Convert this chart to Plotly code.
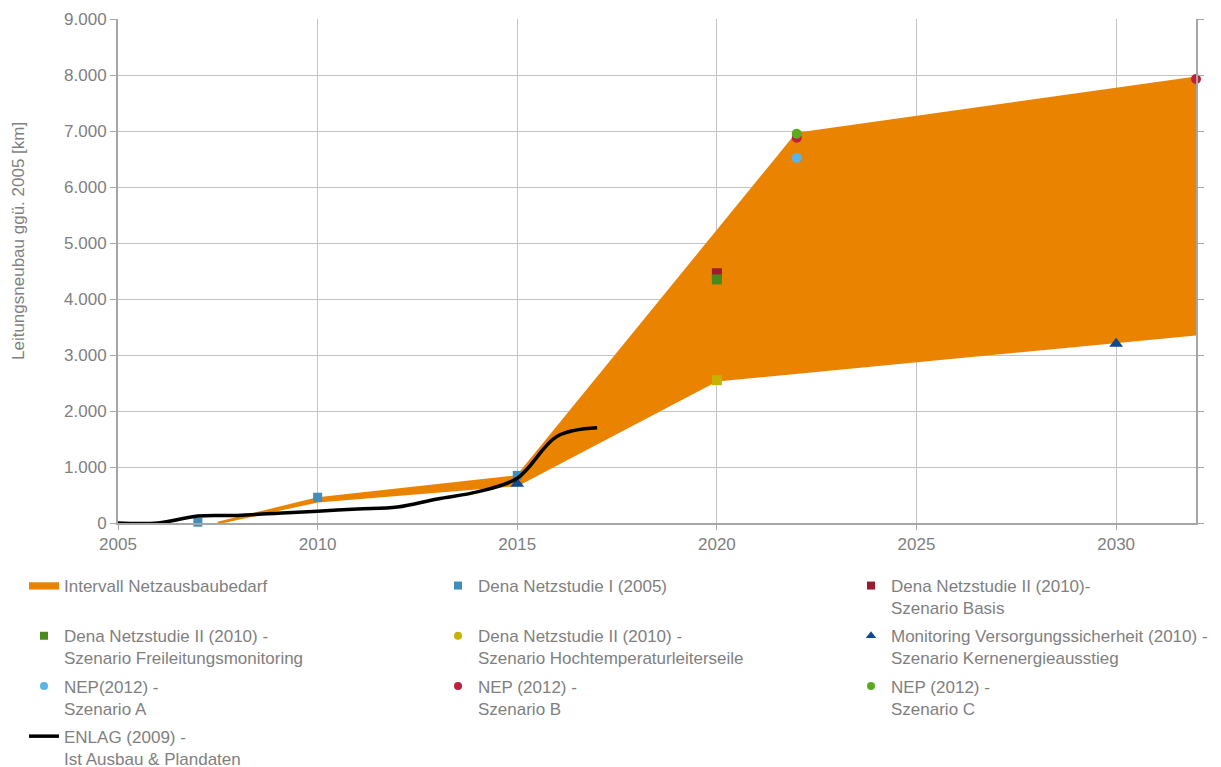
import plotly.graph_objects as go

# ---------------- data ----------------
band_upper_x = [2007.5, 2010, 2015, 2022, 2032]
band_upper_y = [0, 440, 830, 6950, 7950]
band_lower_x = [2007.5, 2010, 2015, 2020, 2032]
band_lower_y = [0, 390, 680, 2550, 3370]

enlag_years = [2005, 2006, 2007, 2008, 2009, 2010, 2011, 2012, 2013, 2014, 2015, 2016, 2017]
enlag_km = [0, 0, 125, 135, 175, 210, 250, 285, 430, 555, 800, 1550, 1700]

dena1_x = [2007, 2010, 2015]
dena1_y = [15, 460, 850]
dena2_basis_x = [2020]
dena2_basis_y = [4460]
dena2_frei_x = [2020]
dena2_frei_y = [4350]
dena2_htls_x = [2020]
dena2_htls_y = [2550]
monitoring_x = [2015, 2030]
monitoring_y = [700, 3200]
nep_a_x = [2022]
nep_a_y = [6520]
nep_b_x = [2022, 2032]
nep_b_y = [6880, 7930]
nep_c_x = [2022]
nep_c_y = [6950]

x_ticks = [2005, 2010, 2015, 2020, 2025, 2030]
y_ticks = [0, 1000, 2000, 3000, 4000, 5000, 6000, 7000, 8000, 9000]

# ---------------- style ----------------
FONT = "Liberation Sans, Arial, sans-serif"
GRAY = "#7F7F7F"
ORANGE = "#E98300"
C_DENA1 = "#3F8FBA"
C_BASIS = "#9B1B30"
C_FREI = "#4A8A1C"
C_HTLS = "#C8B200"
C_MON = "#0D4A94"
C_NEPA = "#5BB4E3"
C_NEPB = "#C0203B"
C_NEPC = "#5EAA1F"
NB = "\u00a0"

fig = go.Figure()

# band polygon (upper boundary forward, lower boundary backward)
fig.add_trace(go.Scatter(
    x=band_upper_x + band_lower_x[::-1],
    y=band_upper_y + band_lower_y[::-1],
    mode="lines", fill="toself", fillcolor=ORANGE,
    line=dict(color=ORANGE, width=2.5),
    name="Intervall Netzausbaubedarf<br>" + NB,
    legend="legend", legendgroup="a1", hoverinfo="skip"))

def pts(x, y, sym, col, size=10):
    fig.add_trace(go.Scatter(x=x, y=y, mode="markers", showlegend=False, cliponaxis=False,
                             marker=dict(symbol=sym, color=col, size=size)))

pts(dena1_x, dena1_y, "square", C_DENA1, 9)
pts(dena2_basis_x, dena2_basis_y, "square", C_BASIS, 10)
pts(dena2_frei_x, dena2_frei_y, "square", C_FREI, 10)
pts(dena2_htls_x, dena2_htls_y, "square", C_HTLS, 10)
pts(monitoring_x, monitoring_y, "triangle-up", C_MON, 12)
pts(nep_a_x, nep_a_y, "circle", C_NEPA, 10)
pts(nep_b_x, nep_b_y, "circle", C_NEPB, 10)
pts(nep_c_x, nep_c_y, "circle", C_NEPC, 10)

def leg(name, sym, col, legend, group, size=8):
    fig.add_trace(go.Scatter(x=[None], y=[None], mode="markers", name=name,
                             marker=dict(symbol=sym, color=col, size=size),
                             legend=legend, legendgroup=group))

# column 1
leg("Dena Netzstudie II (2010) -<br>Szenario Freileitungsmonitoring", "square", C_FREI, "legend", "a2")
leg("NEP(2012) -<br>Szenario A", "circle", C_NEPA, "legend", "a3")
# column 2
leg("Dena Netzstudie I (2005)<br>" + NB, "square", C_DENA1, "legend2", "b1")
leg("Dena Netzstudie II (2010) -<br>Szenario Hochtemperaturleiterseile", "circle", C_HTLS, "legend2", "b2")
leg("NEP (2012) -<br>Szenario B", "circle", C_NEPB, "legend2", "b3")
# column 3
leg("Dena Netzstudie II (2010)-<br>Szenario Basis", "square", C_BASIS, "legend3", "c1")
leg("Monitoring Versorgungssicherheit (2010) -<br>Szenario Kernenergieausstieg", "triangle-up", C_MON, "legend3", "c2", 9)
leg("NEP (2012) -<br>Szenario C", "circle", C_NEPC, "legend3", "c3")

# ENLAG line (drawn on top)
fig.add_trace(go.Scatter(
    x=enlag_years, y=enlag_km, mode="lines", line=dict(color="black", width=3.5, shape="spline"),
    name="ENLAG (2009) -<br>Ist Ausbau & Plandaten", cliponaxis=False,
    legend="legend", legendgroup="a4"))

L, R, T, B = 118, 25, 19, 244
W, H = 1221, 767
pw = W - L - R
ph = H - T - B

def px_x(p):
    return (p - L) / pw

def px_y(p):
    return (H - B - p) / ph

legend_common = dict(orientation="v", valign="top", bgcolor="rgba(0,0,0,0)",
                     font=dict(family=FONT, size=17, color=GRAY),
                     tracegroupgap=3, xanchor="left", yanchor="top", traceorder="grouped")

LEG_TOP = 568
fig.update_layout(
    width=W, height=H,
    margin=dict(l=L, r=R, t=T, b=B, autoexpand=False),
    paper_bgcolor="white", plot_bgcolor="white",
    font=dict(family=FONT, size=17, color=GRAY),
    separators=",.",
    legend=dict(x=px_x(24), y=px_y(LEG_TOP), **legend_common),
    legend2=dict(x=px_x(438), y=px_y(LEG_TOP), **legend_common),
    legend3=dict(x=px_x(851), y=px_y(LEG_TOP), **legend_common),
    xaxis=dict(range=[2005, 2032], tickvals=x_ticks, showgrid=True, gridcolor="#C3C3C3", gridwidth=1,
               showline=True, linecolor="#A6A6A6", linewidth=2, ticks="outside", ticklen=5,
               tickcolor="#A6A6A6", tickfont=dict(size=17, color=GRAY), zeroline=False),
    yaxis=dict(range=[0, 9000], tickvals=y_ticks, tickformat=",d", showgrid=True, gridcolor="#C3C3C3",
               gridwidth=1, showline=True, mirror="ticks", linecolor="#A6A6A6", linewidth=2,
               ticks="outside", ticklen=6, tickcolor="#A6A6A6", tickfont=dict(size=17, color=GRAY),
               zeroline=False),
    annotations=[dict(text="Leitungsneubau ggü. 2005 [km]", xref="paper", yref="paper",
                      x=px_x(18), y=px_y(241), xanchor="center", yanchor="middle",
                      textangle=-90, showarrow=False, font=dict(family=FONT, size=17, color=GRAY))],
    showlegend=True,
)

fig.write_html("out.html")
